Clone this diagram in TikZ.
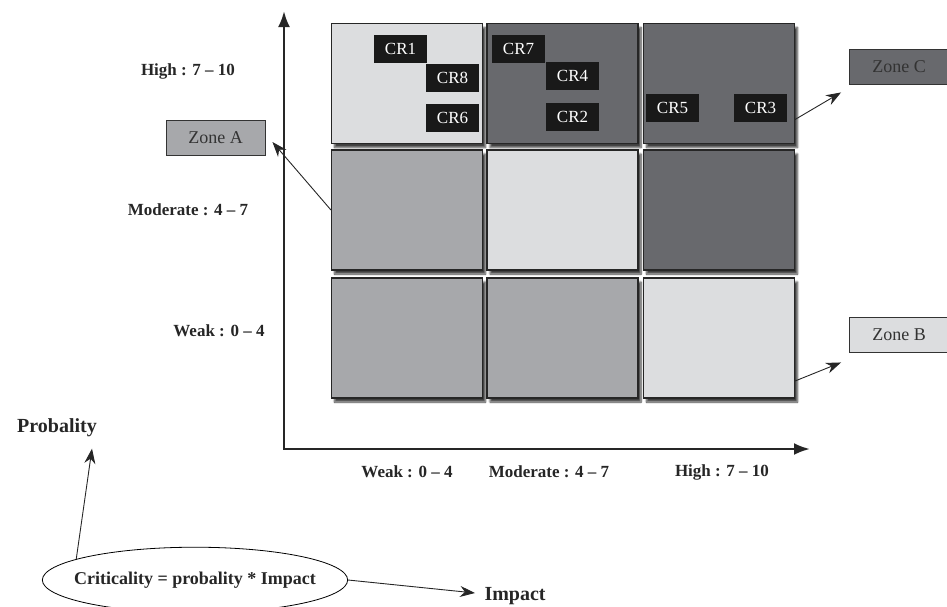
\documentclass[tikz,border=0pt]{standalone}
\usepackage{fontspec}
\setmainfont{Liberation Serif}
\usetikzlibrary{arrows.meta,shapes.geometric,shadows.blur}

\definecolor{celllight}{HTML}{DCDDDF}
\definecolor{cellmid}{HTML}{A7A8AB}
\definecolor{celldark}{HTML}{68696D}

\tikzset{
  cell/.style={draw=black!85, line width=1.1pt, minimum width=151pt, minimum height=120pt, inner sep=0pt,
    blur shadow={shadow xshift=3pt, shadow yshift=-4pt, shadow blur steps=8, shadow opacity=75}},
  crbox/.style={fill=black!90, text=white, minimum width=53pt, minimum height=28pt, inner sep=0pt,
    font=\fontsize{17}{17}\selectfont},
  zonebox/.style={draw=black!80, line width=0.9pt, minimum width=99pt, minimum height=35pt, inner sep=0pt,
    text=black!80, font=\fontsize{18}{18}\selectfont},
  lbl/.style={font=\bfseries\fontsize{17}{17}\selectfont, text=black!85},
  big/.style={font=\bfseries\fontsize{20}{20}\selectfont, text=black!85},
  pointer/.style={-{Stealth[length=15pt,width=11pt]}, line width=0.9pt, draw=black!85},
  axis/.style={{Latex[length=16pt,width=12pt]}-{Latex[length=16pt,width=12pt]}, line width=2.5pt, draw=black!85}
}

\begin{document}
\begin{tikzpicture}[x=1pt,y=-1pt]
\useasboundingbox (0,0) rectangle (947,606);

\coordinate (ytop) at (284,11);
\coordinate (o) at (284,449);
\coordinate (xend) at (810,449);
\draw[axis] (ytop) -- (o) -- (xend);

\node[cell, fill=celllight] (c11) at (407,83.5) {};
\node[cell, fill=celldark] (c12) at (562.5,83.5) {};
\node[cell, fill=celldark] (c13) at (719,83.5) {};
\node[cell, fill=cellmid] (c21) at (407,210) {};
\node[cell, fill=celllight] (c22) at (562.5,210) {};
\node[cell, fill=celldark] (c23) at (719,210) {};
\node[cell, fill=cellmid] (c31) at (407,338) {};
\node[cell, fill=cellmid] (c32) at (562.5,338) {};
\node[cell, fill=celllight] (c33) at (719,338) {};

\node[crbox] (cr1) at (400.5,49) {CR1};
\node[crbox] (cr8) at (452.5,78) {CR8};
\node[crbox] (cr6) at (452.5,118) {CR6};
\node[crbox] (cr7) at (518.5,49) {CR7};
\node[crbox] (cr4) at (572.5,76) {CR4};
\node[crbox] (cr2) at (572.5,117) {CR2};
\node[crbox] (cr5) at (672.5,108) {CR5};
\node[crbox] (cr3) at (760.5,108) {CR3};

\node[lbl] (yhigh) at (188,71) {High : 7 -- 10};
\node[lbl] (ymod) at (188,210) {Moderate : 4 -- 7};
\node[lbl] (yweak) at (219,331) {Weak : 0 -- 4};

\node[lbl] (xweak) at (407,472) {Weak : 0 -- 4};
\node[lbl] (xmod) at (549,472) {Moderate : 4 -- 7};
\node[lbl] (xhigh) at (722,472) {High : 7 -- 10};

\node[zonebox, fill=cellmid] (za) at (215.5,138) {Zone A};
\node[zonebox, fill=celldark] (zc) at (899,66.5) {Zone C};
\node[zonebox, fill=celllight] (zb) at (899,334.5) {Zone B};

\draw[pointer] (c21.west) -- ([xshift=7pt,yshift=-4pt]za.east);
\draw[pointer] ([yshift=-36pt]c13.east) -- ([xshift=-8pt,yshift=-8pt]zc.south west);
\draw[pointer] ([yshift=-43pt]c33.east) -- ([xshift=-8pt,yshift=-10pt]zb.south west);

\node[big] (prob) at (57,428) {Probality};
\node[big, anchor=west] (imp) at (481,596) {Impact};

\node[draw, ellipse, line width=0.8pt, inner xsep=-13pt, inner ysep=15pt,
  font=\bfseries\fontsize{18}{18}\selectfont, text=black!85] (crit) at (195,580) {Criticality = probality * Impact};

\draw[pointer] (crit.170) -- ([xshift=35pt,yshift=-8pt]prob.south);
\draw[pointer] (crit.east) -- ([xshift=-6pt,yshift=3pt]imp.west);

\end{tikzpicture}
\end{document}
